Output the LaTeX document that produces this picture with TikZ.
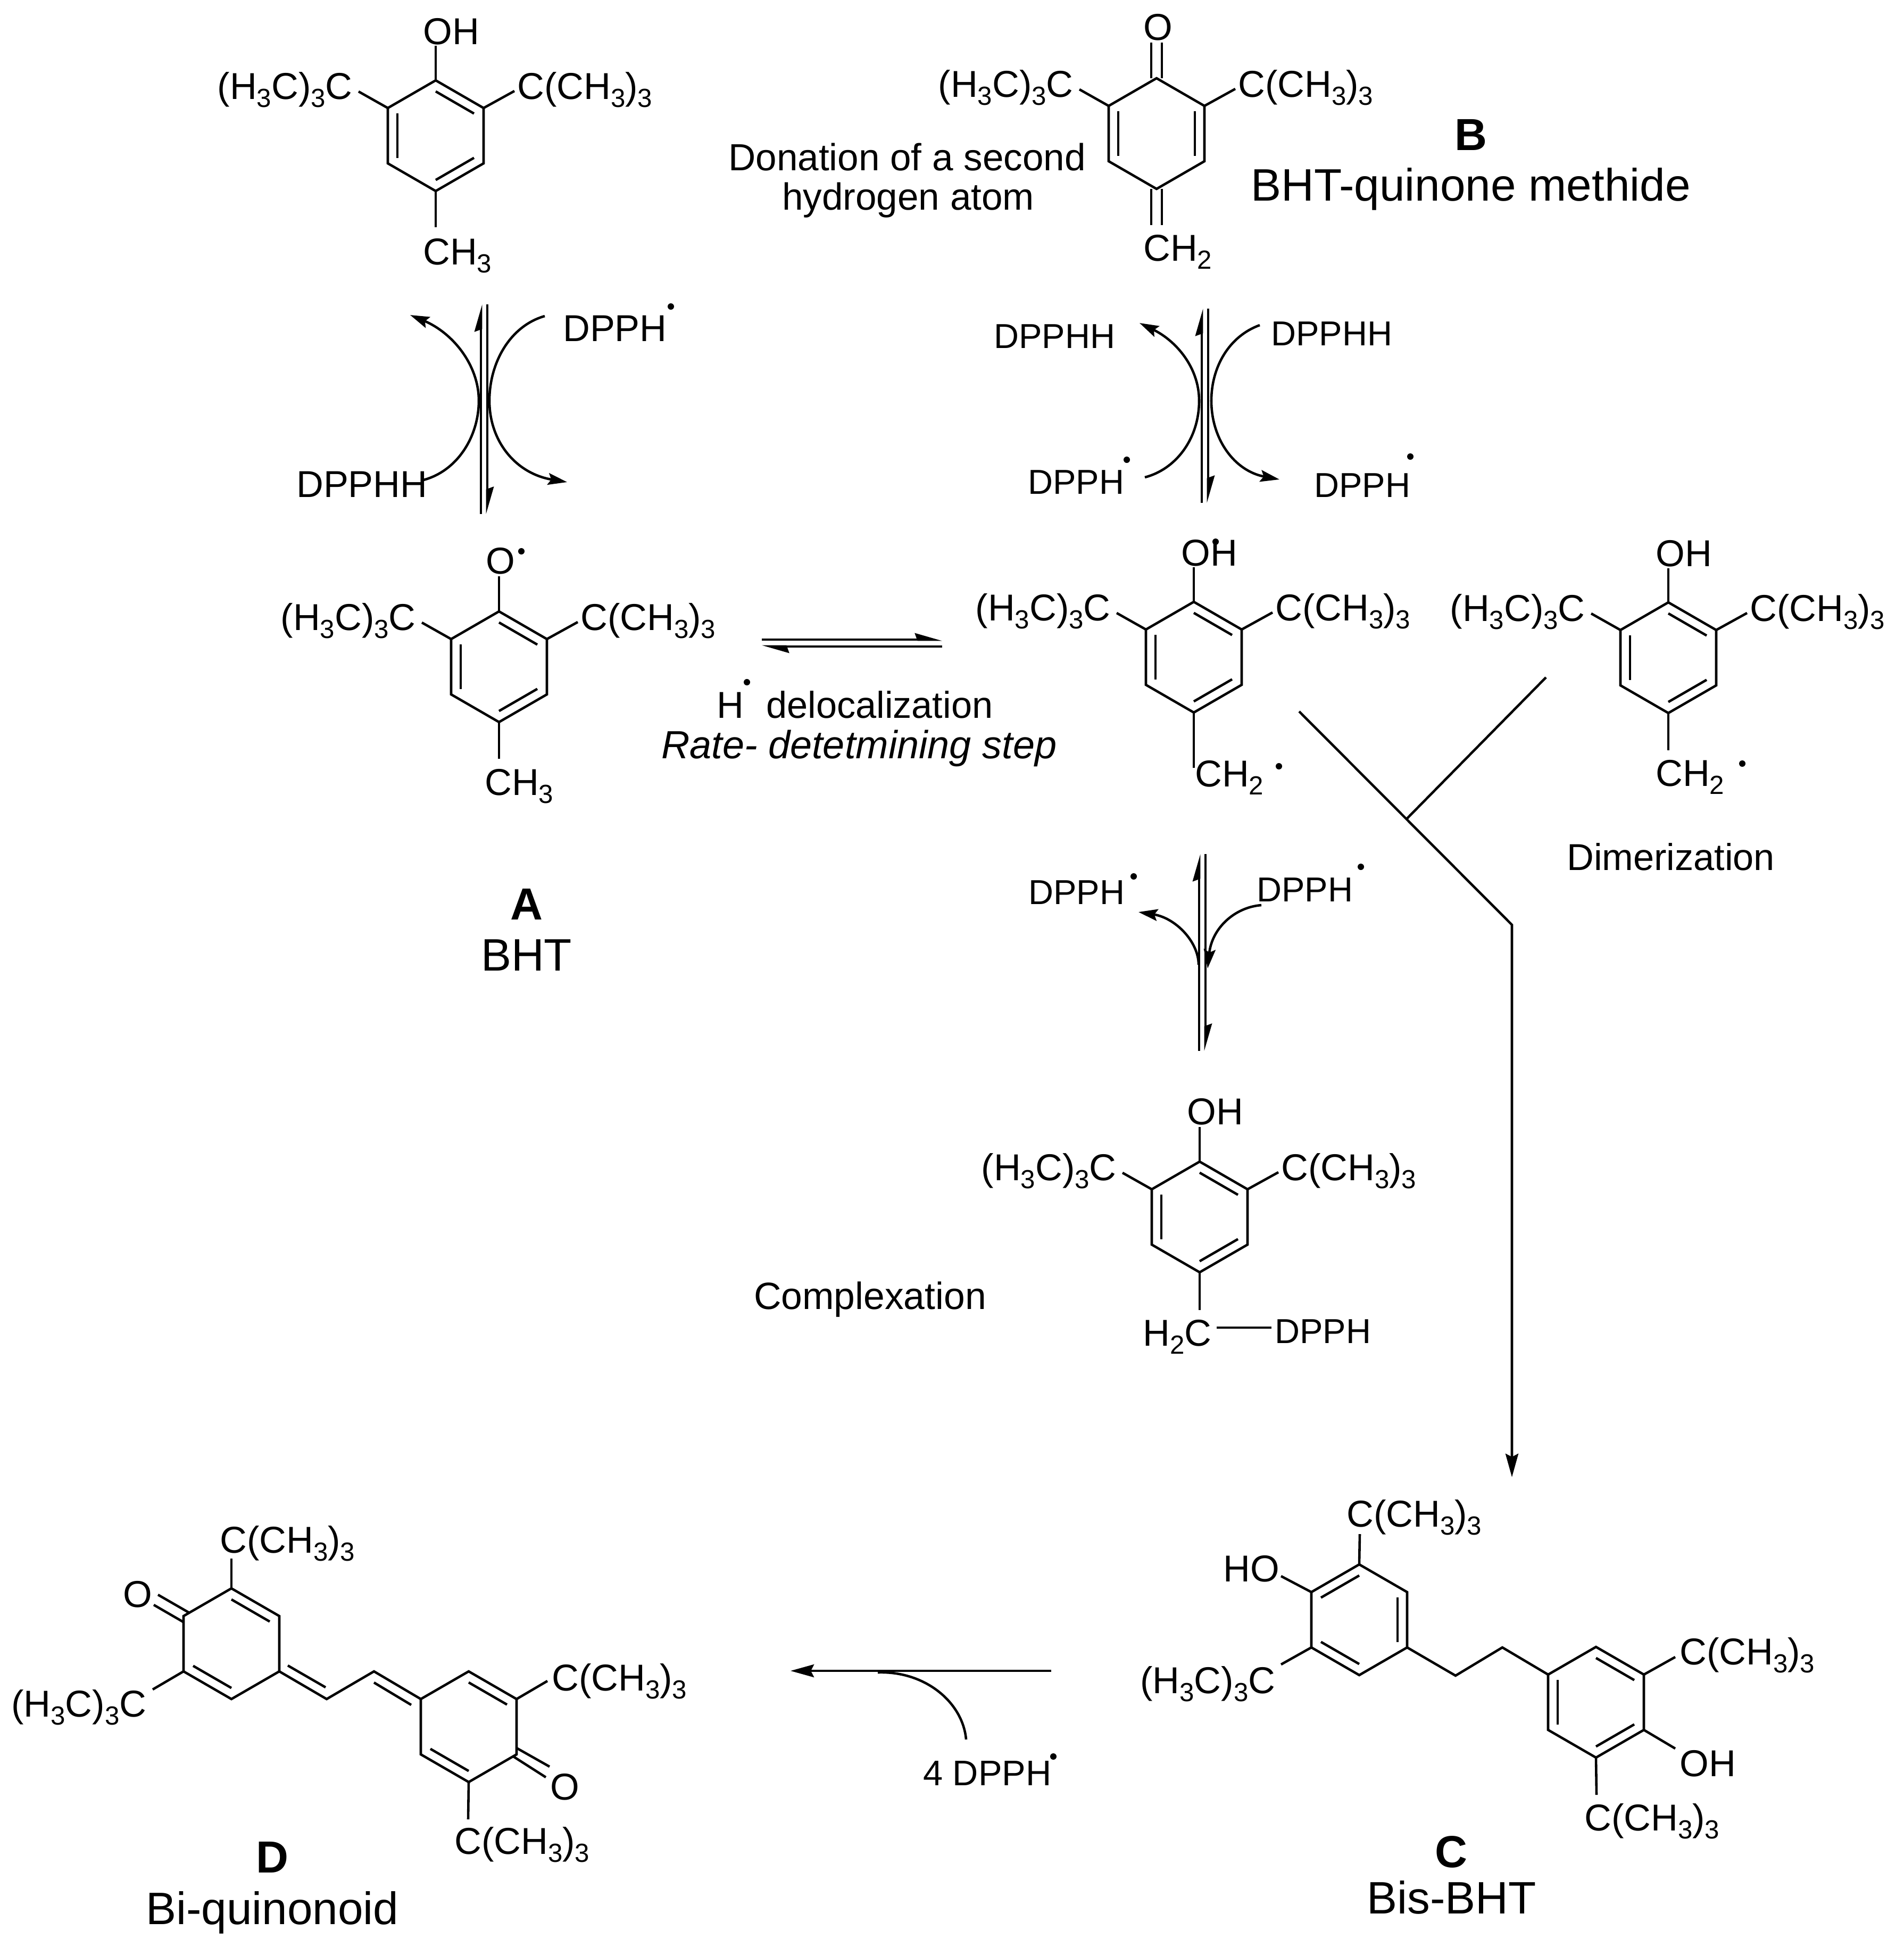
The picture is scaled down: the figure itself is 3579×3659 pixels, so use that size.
\documentclass[tikz,border=0pt]{standalone}
\usepackage{fontspec}
\setmainfont{Liberation Sans}
\usetikzlibrary{calc, positioning, arrows.meta}

\newcommand{\lowidx}[1]{\raisebox{-4.5pt}{\fontsize{14}{14}\selectfont #1}}
\newcommand{\butylr}{C(CH\lowidx{3})\lowidx{3}}
\newcommand{\butyll}{(H\lowidx{3}C)\lowidx{3}C}

\newcommand{\hexring}[3]{
  \coordinate (#1) at (#2,#3);
  \coordinate (#1a) at (#2,#3-104);
  \coordinate (#1b) at (#2+90,#3-52);
  \coordinate (#1c) at (#2+90,#3+52);
  \coordinate (#1d) at (#2,#3+104);
  \coordinate (#1e) at (#2-90,#3+52);
  \coordinate (#1f) at (#2-90,#3-52);
  \draw (#1a) -- (#1b) -- (#1c) -- (#1d) -- (#1e) -- (#1f) -- cycle;
}
\newcommand{\innerbond}[3]{\draw ($(#1)!0.8!(#1#2)$) -- ($(#1)!0.8!(#1#3)$);}
\newcommand{\butylring}[3]{
  \hexring{#1}{#2}{#3}
  \innerbond{#1}{f}{e}
  \node (#1left) [chem, anchor = base east] at (#2-154,#3-69) {\butyll};
  \node (#1right) [chem] at (#2+151,#3-69) {\butylr};
  \coordinate (#1lb) at (#2-145,#3-83);
  \coordinate (#1rb) at (#2+148,#3-84);
  \draw (#1f) -- (#1lb);
  \draw (#1b) -- (#1rb);
}
\newcommand{\phenolring}[3]{
  \butylring{#1}{#2}{#3}
  \innerbond{#1}{a}{b}
  \innerbond{#1}{c}{d}
}
\newcommand{\equil}[4]{
  \coordinate (#1t) at (#2,#3);
  \coordinate (#1b) at (#2,#4);
  \draw [eqarrow] ([xshift = -0.06cm]#1b) -- ([xshift = -0.06cm]#1t);
  \draw [eqarrow] ([xshift = 0.06cm]#1t) -- ([xshift = 0.06cm]#1b);
}

\begin{document}
\begin{tikzpicture}[x = 0.01cm, y = -0.01cm, line width = 1.3pt, font = \fontsize{20}{24}\selectfont,
    chem/.style = {inner sep = 0, anchor = base west},
    reagent/.style = {chem, font = \fontsize{18.5}{22}\selectfont},
    caption/.style = {inner sep = 0, font = \fontsize{24.3}{28}\selectfont},
    letter/.style = {inner sep = 0, font = \fontsize{24}{28}\selectfont\bfseries},
    radical/.style = {circle, fill = black, inner sep = 0, minimum size = 0.12cm},
    eqarrow/.style = {-{Stealth[harpoon, length = 0.43cm, width = 0.24cm, inset = 0.04cm]}},
    curved/.style = {-{Stealth[length = 0.36cm, width = 0.22cm, inset = 0.06cm]}},
    main/.style = {-{Stealth[length = 0.44cm, width = 0.24cm, inset = 0.06cm]}}]
  \useasboundingbox (0,0) rectangle (3579,3659);

  % BHT
  \phenolring{top}{819}{255}
  \node (topoh) [chem] at (793,83) {OH};
  \node (topme) [chem] at (793,497) {CH\lowidx{3}};
  \coordinate (topob) at (819,86);
  \coordinate (topmb) at (819,427);
  \draw (topa) -- (topob);
  \draw (topd) -- (topmb);

  % first equilibrium
  \equil{eqa}{910}{572}{966}
  \coordinate (eqamid) at (900,753);
  \coordinate (eqamidr) at (920,753);
  \coordinate (eqaout) at (771,592);
  \coordinate (eqain) at (1024,594);
  \coordinate (eqaend) at (1066,906);
  \coordinate (eqastart) at (796,902);
  \draw (eqastart) .. controls (860,885) and (900,820) .. (eqamid);
  \draw [curved] (eqamid) .. controls (900,685) and (850,625) .. (eqaout);
  \draw (eqain) .. controls (960,612) and (920,680) .. (eqamidr);
  \draw [curved] (eqamidr) .. controls (920,830) and (970,890) .. (eqaend);
  \node (eqadpph) [chem] at (1056,641) {DPPH};
  \node (eqadot) [radical] at (1261,576) {};
  \node (eqadpphh) [chem] at (555,934) {DPPHH};

  % quinone methide
  \butylring{qm}{2174}{251}
  \innerbond{qm}{b}{c}
  \coordinate (qmox) at (2174,80);
  \coordinate (qmch) at (2174,423);
  \draw ([xshift = -0.1cm]qma) -- ([xshift = -0.1cm]qmox);
  \draw ([xshift = 0.1cm]qma) -- ([xshift = 0.1cm]qmox);
  \draw ([xshift = -0.1cm]qmd) -- ([xshift = -0.1cm]qmch);
  \draw ([xshift = 0.1cm]qmd) -- ([xshift = 0.1cm]qmch);
  \node (qmo) [chem] at (2147,75) {O};
  \node (qmme) [chem] at (2147,490) {CH\lowidx{2}};
  \node (donation) [chem, font = \fontsize{20.2}{24}\selectfont] at (1367,320) {Donation of a second};
  \node (hydrogen) [chem, font = \fontsize{20.2}{24}\selectfont] at (1468,394) {hydrogen atom};
  \node (qmname) [caption, chem] at (2349,377) {BHT-quinone methide};
  \node (qmletter) [letter, above = 0.28cm of qmname] {B};

  % second equilibrium
  \equil{eqb}{2265}{580}{945}
  \coordinate (eqbmid) at (2254,753);
  \coordinate (eqbmidr) at (2277,753);
  \coordinate (eqbout) at (2142,607);
  \coordinate (eqbin) at (2368,611);
  \coordinate (eqbend) at (2405,901);
  \coordinate (eqbstart) at (2152,897);
  \draw (eqbstart) .. controls (2210,882) and (2254,825) .. (eqbmid);
  \draw [curved] (eqbmid) .. controls (2254,690) and (2210,640) .. (eqbout);
  \draw (eqbin) .. controls (2310,632) and (2277,690) .. (eqbmidr);
  \draw [curved] (eqbmidr) .. controls (2277,825) and (2320,885) .. (eqbend);
  \node (eqbhl) [reagent] at (1866,654) {DPPHH};
  \node (eqbhr) [reagent] at (2387,649) {DPPHH};
  \node (eqbdl) [reagent] at (1930,928) {DPPH};
  \node (eqbdr) [reagent] at (2468,934) {DPPH};
  \node (eqbdotl) [radical] at (2118,864) {};
  \node (eqbdotr) [radical] at (2651,858) {};

  % phenoxyl radical
  \phenolring{rad}{938}{1253}
  \node (rado) [chem] at (911,1078) {O};
  \node (raddot) [radical] at (980,1036) {};
  \node (radme) [chem] at (909,1494) {CH\lowidx{3}};
  \coordinate (radob) at (938,1083);
  \coordinate (radmb) at (938,1426);
  \draw (rada) -- (radob);
  \draw (radd) -- (radmb);
  \node (radname) [caption, chem] at (902,1824) {BHT};
  \node (radletter) [letter, above = 0.32cm of radname] {A};

  % delocalization
  \coordinate (hleft) at (1432,1202);
  \coordinate (hright) at (1771,1202);
  \coordinate (hleftl) at (1432,1215);
  \coordinate (hrightl) at (1771,1215);
  \draw [eqarrow] (hleft) -- (hright);
  \draw [eqarrow] (hrightl) -- (hleftl);
  \node (hatom) [chem] at (1345,1349) {H};
  \node (hdot) [radical] at (1404,1282) {};
  \node (deloc) [chem] at (1438,1349) {delocalization};
  \node (rate) [chem, font = \fontsize{21}{24}\selectfont] at (1241,1425) {\itshape Rate- detetmining step};

  % benzyl radicals
  \phenolring{ben}{2244}{1235}
  \node (benoh) [chem] at (2218,1063) {OH};
  \node (bendot) [radical] at (2285,1018) {};
  \node (benme) [chem] at (2244,1478) {CH\lowidx{2}};
  \node (benmedot) [radical] at (2404,1440) {};
  \coordinate (benob) at (2244,1066);
  \coordinate (benmb) at (2244,1443);
  \draw (bena) -- (benob);
  \draw (bend) -- (benmb);

  \phenolring{dim}{3136}{1236}
  \node (dimoh) [chem] at (3110,1064) {OH};
  \node (dimme) [chem] at (3110,1477) {CH\lowidx{2}};
  \node (dimdot) [radical] at (3275,1435) {};
  \node (dimer) [chem] at (2943,1635) {Dimerization};
  \coordinate (dimob) at (3136,1068);
  \coordinate (dimmb) at (3136,1410);
  \draw (dima) -- (dimob);
  \draw (dimd) -- (dimmb);

  % dimerization path
  \coordinate (pathstart) at (2442,1337);
  \coordinate (pathjoin) at (2645,1538);
  \coordinate (pathbranch) at (2906,1273);
  \coordinate (pathbend) at (2842,1738);
  \coordinate (pathend) at (2842,2776);
  \draw [main] (pathstart) -- (pathbend) -- (pathend);
  \draw (pathbranch) -- (pathjoin);

  % third equilibrium
  \equil{eqc}{2260}{1605}{1975}
  \coordinate (eqcmid) at (2253,1813);
  \coordinate (eqcout) at (2140,1714);
  \coordinate (eqcin) at (2371,1701);
  \coordinate (eqcend) at (2270,1820);
  \draw [curved] (eqcmid) .. controls (2253,1770) and (2210,1725) .. (eqcout);
  \draw [curved] (eqcin) .. controls (2320,1705) and (2278,1745) .. (eqcend);
  \node (eqcdl) [reagent] at (1931,1699) {DPPH};
  \node (eqcdr) [reagent] at (2360,1694) {DPPH};
  \node (eqcdotl) [radical] at (2131,1647) {};
  \node (eqcdotr) [radical] at (2558,1629) {};

  % complex
  \phenolring{com}{2255}{2287}
  \node (comoh) [chem] at (2229,2113) {OH};
  \node (comch) [chem] at (2146,2529) {H\lowidx{2}C};
  \node (comdpph) [reagent] at (2394,2524) {DPPH};
  \node (complex) [chem, font = \fontsize{20.3}{24}\selectfont] at (1415,2460) {Complexation};
  \coordinate (comob) at (2255,2118);
  \coordinate (commb) at (2255,2462);
  \coordinate (comcb) at (2287,2495);
  \coordinate (comdb) at (2390,2495);
  \draw (coma) -- (comob);
  \draw (comd) -- (commb);
  \draw (comcb) -- (comdb);

  % Bis-BHT
  \hexring{bisa}{2555}{3044}
  \innerbond{bisa}{f}{a}
  \innerbond{bisa}{b}{c}
  \innerbond{bisa}{e}{d}
  \hexring{bisb}{3000}{3199}
  \innerbond{bisb}{f}{e}
  \innerbond{bisb}{a}{b}
  \innerbond{bisb}{c}{d}
  \coordinate (bisch) at (2736,3149);
  \coordinate (bischb) at (2824,3096);
  \draw (bisac) -- (bisch) -- (bischb) -- (bisbf);
  \node (bisbut) [chem] at (2529,2869) {\butylr};
  \node (bisho) [chem] at (2297,2972) {HO};
  \node (bisbul) [chem] at (2141,3182) {\butyll};
  \node (bisbur) [chem] at (3155,3128) {\butylr};
  \node (bisoh) [chem] at (3155,3338) {OH};
  \node (bisbub) [chem] at (2976,3440) {\butylr};
  \coordinate (bisb1) at (2556,2883);
  \coordinate (bisb2) at (2408,2962);
  \coordinate (bisb3) at (2408,3128);
  \coordinate (bisb4) at (3149,3114);
  \coordinate (bisb5) at (3149,3286);
  \coordinate (bisb6) at (3001,3373);
  \draw (bisaa) -- (bisb1);
  \draw (bisaf) -- (bisb2);
  \draw (bisae) -- (bisb3);
  \draw (bisbb) -- (bisb4);
  \draw (bisbc) -- (bisb5);
  \draw (bisbd) -- (bisb6);
  \node (bisname) [caption, chem] at (2567,3596) {Bis-BHT};
  \node (bisletter) [letter, above = 0.19cm of bisname] {C};

  % oxidation arrow
  \coordinate (oxstart) at (1976,3140);
  \coordinate (oxend) at (1486,3140);
  \coordinate (oxjoin) at (1650,3143);
  \coordinate (oxfoot) at (1816,3269);
  \draw [main] (oxstart) -- (oxend);
  \draw (oxfoot) .. controls (1810,3200) and (1740,3140) .. (oxjoin);
  \node (oxdpph) [chem, font = \fontsize{19}{22}\selectfont] at (1733,3355) {4 DPPH};
  \node (oxdot) [radical] at (1980,3301) {};

  % Bi-quinonoid
  \hexring{bia}{435}{3089}
  \innerbond{bia}{a}{b}
  \innerbond{bia}{e}{d}
  \hexring{bib}{881}{3245}
  \innerbond{bib}{a}{b}
  \innerbond{bib}{e}{d}
  \coordinate (bich) at (614,3193);
  \coordinate (bichb) at (703,3141);
  \draw (biac) -- (bich) -- (bichb) -- (bibf);
  \coordinate (bii1) at (541,3130);
  \coordinate (bii2) at (612,3171);
  \coordinate (bii3) at (703,3162);
  \coordinate (bii4) at (773,3204);
  \draw (bii1) -- (bii2);
  \draw (bii3) -- (bii4);
  \node (biol) [chem] at (229,3020) {O};
  \node (bior) [chem] at (1032,3382) {O};
  \coordinate (bio1) at (297,2997);
  \coordinate (bio2) at (356,3031);
  \coordinate (bio3) at (289,3016);
  \coordinate (bio4) at (346,3049);
  \coordinate (bio5) at (971,3285);
  \coordinate (bio6) at (1033,3320);
  \coordinate (bio7) at (965,3301);
  \coordinate (bio8) at (1026,3340);
  \draw (bio1) -- (bio2);
  \draw (bio3) -- (bio4);
  \draw (bio5) -- (bio6);
  \draw (bio7) -- (bio8);
  \node (bibut) [chem] at (411,2918) {\butylr};
  \node (bibul) [chem] at (19,3226) {\butyll};
  \node (bibur) [chem] at (1035,3177) {\butylr};
  \node (bibub) [chem] at (852,3484) {\butylr};
  \coordinate (bib1) at (435,2929);
  \coordinate (bib2) at (287,3175);
  \coordinate (bib3) at (1029,3159);
  \coordinate (bib4) at (880,3419);
  \draw (biaa) -- (bib1);
  \draw (biae) -- (bib2);
  \draw (bibb) -- (bib3);
  \draw (bibd) -- (bib4);
  \node (biname) [caption, chem] at (272,3616) {Bi-quinonoid};
  \node (biletter) [letter, above = 0.3cm of biname] {D};
\end{tikzpicture}
\end{document}
